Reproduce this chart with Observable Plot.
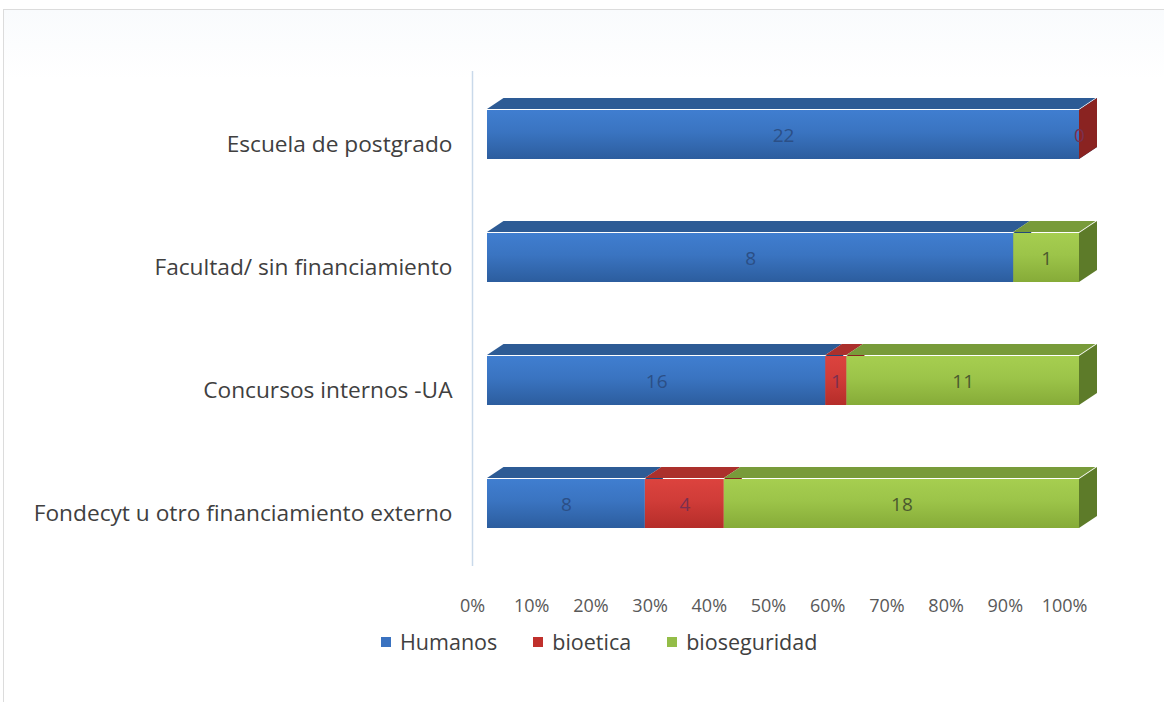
<!DOCTYPE html>
<html><head><meta charset="utf-8">
<script src="https://cdn.jsdelivr.net/npm/d3@7"></script>
<script src="https://cdn.jsdelivr.net/npm/@observablehq/plot@0.6"></script>
<style>
body{margin:0;background:#fff;font-family:"Open Sans",sans-serif;}
#frame{position:absolute;left:3px;top:9px;width:1161px;height:693px;border-top:1px solid #dcdcdc;border-left:1px solid #dcdcdc;background:linear-gradient(#f9fbfd,#ffffff 70px);}
#chart{position:absolute;left:0;top:0;}
.topface rect{transform-box:fill-box;transform-origin:0 100%;transform:skewX(-56.31deg);}
.sideface rect{transform-box:fill-box;transform-origin:0 0;transform:skewY(-33.69deg);}
#legend{position:absolute;top:627px;left:381px;display:flex;align-items:center;font-size:21.5px;color:#404040;font-family:"Open Sans",sans-serif;}
#legend span.sw{display:inline-block;width:10px;height:10px;margin-right:9px;}
#legend .item{display:flex;align-items:center;margin-right:36px;}
</style>
</head><body>
<div id="frame"></div>
<div id="chart"></div>
<div id="legend"></div>
<script>
const categories = ["Escuela de postgrado","Facultad/ sin financiamiento","Concursos internos -UA","Fondecyt u otro financiamiento externo"];
const series = ["Humanos","bioetica","bioseguridad"];
const humanos = [22, 8, 16, 8];
const bioetica = [0, null, 1, 4];
const bioseguridad = [null, 1, 11, 18];
const tickValues = [0,10,20,30,40,50,60,70,80,90,100];

const frontTop = {Humanos:"#407ed0", bioetica:"#dc433e", bioseguridad:"#a6ce50"};
const frontBot = {Humanos:"#2c5d9e", bioetica:"#b52d29", bioseguridad:"#86ab38"};
const topColor = {Humanos:"#2d5b95", bioetica:"#ab302c", bioseguridad:"#789b3a"};
const sideColor = {Humanos:"#24497a", bioetica:"#8a2321", bioseguridad:"#5d7b29"};
const labelColor = {Humanos:"#2b4f86", bioetica:"#7a3050", bioseguridad:"#4b5a2e"};
const legendColor = {Humanos:"#3a72c0", bioetica:"#c0302c", bioseguridad:"#94bd48"};

const valuesBySeries = {Humanos: humanos, bioetica: bioetica, bioseguridad: bioseguridad};
const rows = [];
categories.forEach((cat, i) => {
  const vals = series.map(s => valuesBySeries[s][i]);
  const total = d3.sum(vals.filter(v => v != null));
  let cum = 0;
  series.forEach((s, j) => {
    const v = vals[j];
    if (v == null) return;
    const x1 = cum / total * 100; cum += v; const x2 = cum / total * 100;
    rows.push({cat, series: s, value: v, x1, x2});
  });
});

const defs = () => {
  const g = d3.create("svg:defs");
  series.forEach(s => {
    const lg = g.append("linearGradient").attr("id", "grad-" + s).attr("x1", 0).attr("y1", 0).attr("x2", 0).attr("y2", 1);
    lg.append("stop").attr("offset", "0%").attr("stop-color", frontTop[s]);
    lg.append("stop").attr("offset", "45%").attr("stop-color", d3.interpolateRgb(frontTop[s], frontBot[s])(0.3));
    lg.append("stop").attr("offset", "100%").attr("stop-color", frontBot[s]);
  });
  return g.node();
};

const chart = Plot.plot({
  width: 1164,
  height: 640,
  marginLeft: 487,
  marginRight: 85,
  marginTop: 71,
  marginBottom: 74,
  style: {fontSize: "17px", fontFamily: "Open Sans, sans-serif", background: "transparent"},
  x: {domain: [0, 100]},
  y: {domain: categories, padding: 0, axis: null},
  marks: [
    defs,
    Plot.barX(rows, {x1: "x2", x2: "x2", y: "cat", insetRight: -18, insetLeft: 0, insetTop: 37, insetBottom: 37, fill: d => sideColor[d.series], className: "sideface"}),
    Plot.barX(rows, {x1: "x1", x2: "x2", y: "cat", insetTop: 37, insetBottom: 37, fill: d => "url(#grad-" + d.series + ")"}),
    Plot.barX(rows, {x1: "x1", x2: "x2", y: "cat", insetTop: 25, insetBottom: 87, fill: d => topColor[d.series], className: "topface"}),
    Plot.text(rows, {x: d => (d.x1 + d.x2) / 2, y: "cat", text: d => String(d.value), fill: d => labelColor[d.series], fontSize: 19, dy: 1}),
    Plot.ruleX([0], {dx: -15, stroke: "#c9d9ea", strokeWidth: 1.5}),
    Plot.axisX(tickValues, {tickSize: 0, tickPadding: 33, dx: -15, tickFormat: d => d + "%", color: "#595959", fontSize: 18}),
    Plot.axisY(categories, {tickSize: 0, tickPadding: 35, dy: 10, color: "#404040", fontSize: 22.7, label: null})
  ]
});
document.getElementById("chart").appendChild(chart);

const legend = document.getElementById("legend");
series.forEach(s => {
  const it = document.createElement("div"); it.className = "item";
  const sw = document.createElement("span"); sw.className = "sw"; sw.style.background = legendColor[s];
  const t = document.createElement("span"); t.textContent = s;
  it.appendChild(sw); it.appendChild(t); legend.appendChild(it);
});
</script>
</body></html>
